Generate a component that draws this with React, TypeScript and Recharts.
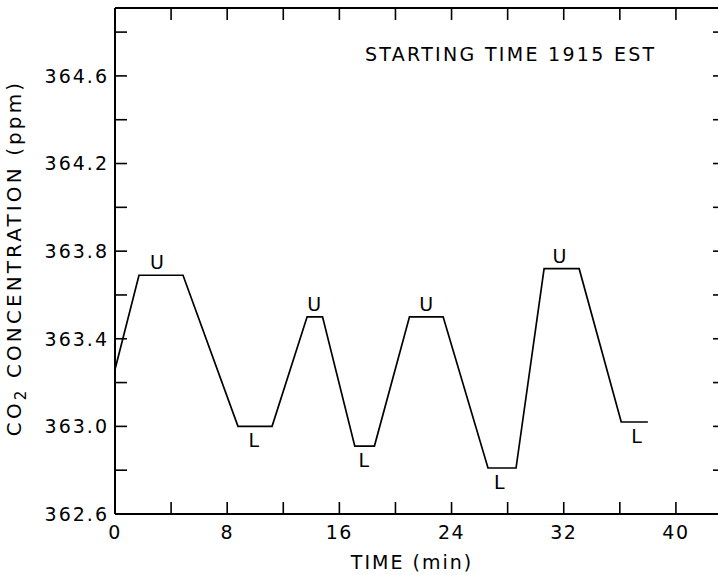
import {
  ComposedChart,
  Line,
  Scatter,
  XAxis,
  YAxis,
  Customized,
} from "recharts";

// ---------------------------------------------------------------------------
// Data
// ---------------------------------------------------------------------------

// trace corners: time (min) and CO2 concentration (ppm)
const times = [0, 1.71, 4.85, 8.77, 11.2, 13.7, 14.8, 17.1, 18.5, 21.0, 23.4, 26.6, 28.6, 30.6, 33.1, 36.1, 38.0];
const co2 = [363.26, 363.69, 363.69, 363.0, 363.0, 363.5, 363.5, 362.91, 362.91, 363.5, 363.5, 362.81, 362.81, 363.72, 363.72, 363.02, 363.02];

// U (upper) / L (lower) level tags
const markTimes = [3.0, 9.9, 14.2, 17.75, 22.2, 27.4, 31.7, 37.2];
const markLevels = [363.69, 363.0, 363.5, 362.91, 363.5, 362.81, 363.72, 363.02];
const markTags = ["U", "L", "U", "L", "U", "L", "U", "L"];

// axes
const xDomain: [number, number] = [0, 43.5];
const yDomain: [number, number] = [362.6, 364.91];
const xTicks = [0, 4, 8, 12, 16, 20, 24, 28, 32, 36, 40];
const xTickLabels = [0, 8, 16, 24, 32, 40];
const yTicks = [362.6, 362.8, 363.0, 363.2, 363.4, 363.6, 363.8, 364.0, 364.2, 364.4, 364.6, 364.8];
const yTickLabels = [362.6, 363.0, 363.4, 363.8, 364.2, 364.6];

const trace = times.map((t, i) => ({ t, c: co2[i] }));
const marks = markTimes.map((t, i) => ({ t, c: markLevels[i], tag: markTags[i] }));

const FONT = "'DejaVu Sans', sans-serif";
const TICK_LEN = 12;

const isLabeled = (list: number[], v: number) =>
  list.some((l) => Math.abs(l - v) < 1e-6);

// ---------------------------------------------------------------------------
// Ticks: marks point into the plot, labels sit outside
// ---------------------------------------------------------------------------

function XTick(props: any) {
  const { x, y, payload, side } = props;
  const v = payload.value as number;
  const dir = side === "top" ? 1 : -1;
  return (
    <g>
      <line x1={x} y1={y} x2={x} y2={y + dir * TICK_LEN} stroke="#000" strokeWidth={1.6} />
      {side === "bottom" && isLabeled(xTickLabels, v) && (
        <text
          x={x}
          y={y + 25}
          textAnchor="middle"
          fontFamily={FONT}
          fontSize={19}
          letterSpacing={1.5}
          fill="#000"
        >
          {String(v)}
        </text>
      )}
    </g>
  );
}

function YTick(props: any) {
  const { x, y, payload, side } = props;
  const v = payload.value as number;
  const dir = side === "left" ? 1 : -1;
  return (
    <g>
      <line x1={x} y1={y} x2={x + dir * TICK_LEN} y2={y} stroke="#000" strokeWidth={1.6} />
      {side === "left" && isLabeled(yTickLabels, v) && (
        <text
          x={x - 6}
          y={y}
          dy="0.36em"
          textAnchor="end"
          fontFamily={FONT}
          fontSize={19}
          letterSpacing={2}
          fill="#000"
        >
          {v.toFixed(1)}
        </text>
      )}
    </g>
  );
}

function TagShape(props: any) {
  const { cx, cy, payload } = props;
  const up = payload.tag === "U";
  return (
    <text
      x={cx}
      y={up ? cy - 6 : cy + 21}
      textAnchor="middle"
      fontFamily={FONT}
      fontSize={19}
      fill="#000"
    >
      {payload.tag}
    </text>
  );
}

function Annotations() {
  return (
    <g fontFamily={FONT} fill="#000">
      <text x={365} y={61} fontSize={19} letterSpacing={2.3}>
        STARTING TIME 1915 EST
      </text>
      <text x={412} y={569} fontSize={19} letterSpacing={2} textAnchor="middle">
        TIME (min)
      </text>
      <text
        transform="translate(21, 258) rotate(-90)"
        fontSize={20}
        letterSpacing={3.1}
        textAnchor="middle"
      >
        CO
        <tspan dy={5} fontSize={15}>
          2
        </tspan>
        <tspan dy={-5}>{"  CONCENTRATION  (ppm)"}</tspan>
      </text>
    </g>
  );
}

// ---------------------------------------------------------------------------
// Component
// ---------------------------------------------------------------------------

export default function App() {
  return (
    <div
      style={{
        position: "absolute",
        left: 0,
        top: 0,
        width: 718,
        height: 575,
        overflow: "hidden",
        background: "#fff",
      }}
    >
      <ComposedChart
        width={740}
        height={575}
        margin={{ top: 7, right: 14, bottom: 31, left: 55 }}
      >
        <XAxis
          xAxisId="bottom"
          dataKey="t"
          type="number"
          domain={xDomain}
          ticks={xTicks}
          interval={0}
          tickSize={0}
          tickMargin={0}
          height={30}
          allowDataOverflow
          axisLine={{ stroke: "#000", strokeWidth: 2 }}
          tick={(p: any) => <XTick {...p} side="bottom" />}
        />
        <XAxis
          xAxisId="top"
          orientation="top"
          dataKey="t"
          type="number"
          domain={xDomain}
          ticks={xTicks}
          interval={0}
          tickSize={0}
          tickMargin={0}
          height={1}
          allowDataOverflow
          axisLine={{ stroke: "#000", strokeWidth: 2 }}
          tick={(p: any) => <XTick {...p} side="top" />}
        />
        <YAxis
          yAxisId="left"
          dataKey="c"
          type="number"
          domain={yDomain}
          ticks={yTicks}
          interval={0}
          tickSize={0}
          tickMargin={0}
          width={60}
          allowDataOverflow
          axisLine={{ stroke: "#000", strokeWidth: 2 }}
          tick={(p: any) => <YTick {...p} side="left" />}
        />
        <YAxis
          yAxisId="right"
          orientation="right"
          dataKey="c"
          type="number"
          domain={yDomain}
          ticks={yTicks}
          interval={0}
          tickSize={0}
          tickMargin={0}
          width={1}
          allowDataOverflow
          axisLine={{ stroke: "#000", strokeWidth: 2 }}
          tick={(p: any) => <YTick {...p} side="right" />}
        />
        <Line
          xAxisId="bottom"
          yAxisId="left"
          data={trace}
          dataKey="c"
          type="linear"
          stroke="#000"
          strokeWidth={1.7}
          dot={false}
          activeDot={false}
          isAnimationActive={false}
        />
        <Scatter
          xAxisId="bottom"
          yAxisId="left"
          data={marks}
          dataKey="c"
          shape={(p: any) => <TagShape {...p} />}
          isAnimationActive={false}
        />
        <Customized component={Annotations} />
      </ComposedChart>
    </div>
  );
}
